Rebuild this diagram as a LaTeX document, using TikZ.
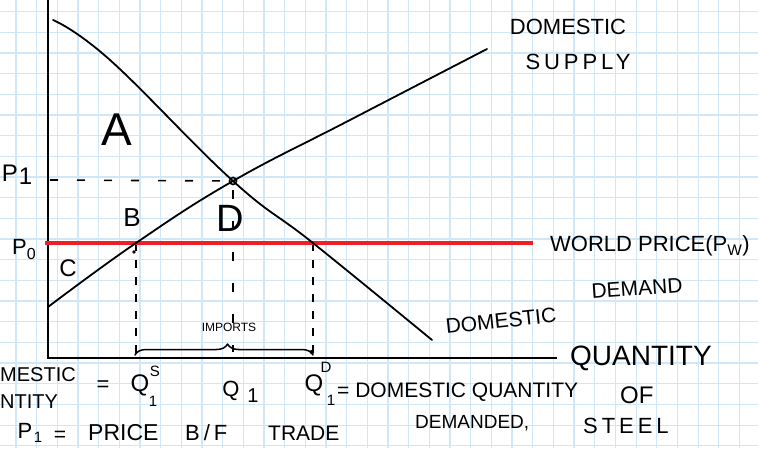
\documentclass[tikz,border=0pt]{standalone}
\usepackage{fontspec}
\setmainfont{Liberation Sans}
\usetikzlibrary{decorations.pathreplacing}
\definecolor{gridblue}{RGB}{208,231,248}
\definecolor{pricered}{RGB}{236,32,40}
\begin{document}
\begin{tikzpicture}[x=1pt,y=-1pt,
  hand/.style={line width=1.8pt, line cap=round, line join=round},
  axisline/.style={line width=2.8pt},
  guide/.style={line width=1.6pt, dash pattern=on 8pt off 9pt},
  hguide/.style={line width=1.6pt, dash pattern=on 8pt off 19pt},
  sparse/.style={line width=1.6pt, dash pattern=on 9pt off 22pt},
  lbl/.style={inner sep=0pt, font=\fontsize{21}{23}\selectfont},
  big/.style={inner sep=0pt, font=\fontsize{#1}{#1}\selectfont},
  wide/.style={inner sep=0pt, font=\fontsize{#1}{#1}\selectfont\addfontfeatures{LetterSpace=18}}
]
\useasboundingbox (0,0) rectangle (758,448);
\clip (0,0) rectangle (758,448);
\fill[white] (0,0) rectangle (758,448);
% grid paper
\foreach \i in {0,...,37} \draw[gridblue, line width=1.2pt] ({-4.67+20.67*\i},0) -- ({-4.67+20.67*\i},448);
\foreach \j in {0,...,21} \draw[gridblue, line width=1.2pt] (0,{11.7+20.67*\j}) -- (758,{11.7+20.67*\j});

% key points
\coordinate (Ytop) at (48,0);
\coordinate (O) at (48,358);
\coordinate (Xend) at (557,358);
\coordinate (S0) at (48,307);
\coordinate (QS) at (136,243);
\coordinate (E) at (233,181);
\coordinate (QD) at (313,243);
\coordinate (S1) at (487,49);
\coordinate (D0) at (53,20);
\coordinate (D1) at (432,340);
\coordinate (W0) at (45,243);
\coordinate (W1) at (533,243);
\coordinate (P1L) at (50,180);
\coordinate (QSb) at (136,356);
\coordinate (Q1t) at (233,190);
\coordinate (Q1b) at (233,352);
\coordinate (QDb) at (313,356);
\coordinate (BrL) at (135,355);
\coordinate (BrR) at (313,355);

% axes
\draw[axisline] (Ytop) -- (O) -- (Xend);

% dashed guides
\draw[hguide] (P1L) -- (E);
\draw[guide] (QS) -- (QSb);
\draw[guide] (QD) -- (QDb);
\draw[sparse] (Q1t) -- (Q1b);

% world price
\draw[pricered, line width=3.4pt] (W0) -- (W1);

% supply and demand
\draw[hand] plot[smooth, tension=0.7] coordinates {(S0) (QS) (E) (350,120) (S1)};
\draw[hand] plot[smooth, tension=0.7] coordinates {(D0) (110,60) (E) (QD) (D1)};

% marks
\draw[line width=1.6pt] (E) circle (3.5pt);
\fill (134,252) circle (1.8pt);
\fill (312,352) circle (2.2pt);

% imports brace
\draw[hand, line width=1.5pt, decorate, decoration={brace, amplitude=11pt, aspect=0.52}] (BrL) -- (BrR);
\node[big=12] (imp) at (229,327) {IMPORTS};

% region letters
\node[big=46] (A) at (117,130) {A};
\node[big=26] (B) at (132,218) {B};
\node[big=24] (C) at (68,268) {C};
\node[big=38] (D) at (230,218) {D};

% axis labels
\node[big=24] (P1) at (17,175) {P\kern1pt\raisebox{-3pt}{1}};
\node[big=22] (P0) at (24,250) {P\raisebox{-5pt}{\fontsize{16}{16}\selectfont 0}};

% curve labels
\node[big=22] (ds1) at (568,27) {DOMESTIC};
\node[wide=22] (ds2) at (578,62) {SUPPLY};
\node[big=22, anchor=west] (wp) at (550,246) {WORLD PRICE(P\textsubscript{W})};
\node[lbl, rotate=6] (dd1) at (501,321) {DOMESTIC};
\node[lbl, rotate=4] (dd2) at (637,288) {DEMAND};
\node[big=28, anchor=west] (qty) at (570,358) {QUANTITY};

% quantity labels under the axis
\node[big=22] (eq1) at (103,386) {=};
\node[big=24] (qs) at (140,385) {Q};
\node[big=15] (qss) at (155,371) {S};
\node[big=15] (qs1) at (153,401) {1};
\node[big=22] (q1) at (231,391) {Q};
\node[big=20] (q11) at (253,396) {1};
\node[big=24] (qd) at (314,385) {Q};
\node[big=15] (qdd) at (326,367) {D};
\node[big=15] (qd1) at (331,400) {1};
\node[lbl, anchor=west] (qdtext) at (337,392) {= DOMESTIC QUANTITY};
\node[big=24, anchor=west] (of) at (620,395) {OF};
\node[big=19, anchor=west] (dem) at (415,423) {DEMANDED,};
\node[wide=22, anchor=west] (steel) at (583,426) {STEEL};

% notes at the left edge (the part that shows)
\node[big=20, anchor=west] (lm1) at (0,375) {MESTIC};
\node[big=20, anchor=west] (lm2) at (0,402) {NTITY};
\node[big=22] (bp) at (25,431) {P};
\node[big=15] (bp1) at (38,437) {1};
\node[lbl] (beq) at (60,436) {=};
\node[big=23, anchor=west] (price) at (88,433) {PRICE};
\node[wide=22, anchor=west] (bf) at (185,433) {B/F};
\node[big=21, anchor=west] (trade) at (268,433) {TRADE};
\end{tikzpicture}
\end{document}
